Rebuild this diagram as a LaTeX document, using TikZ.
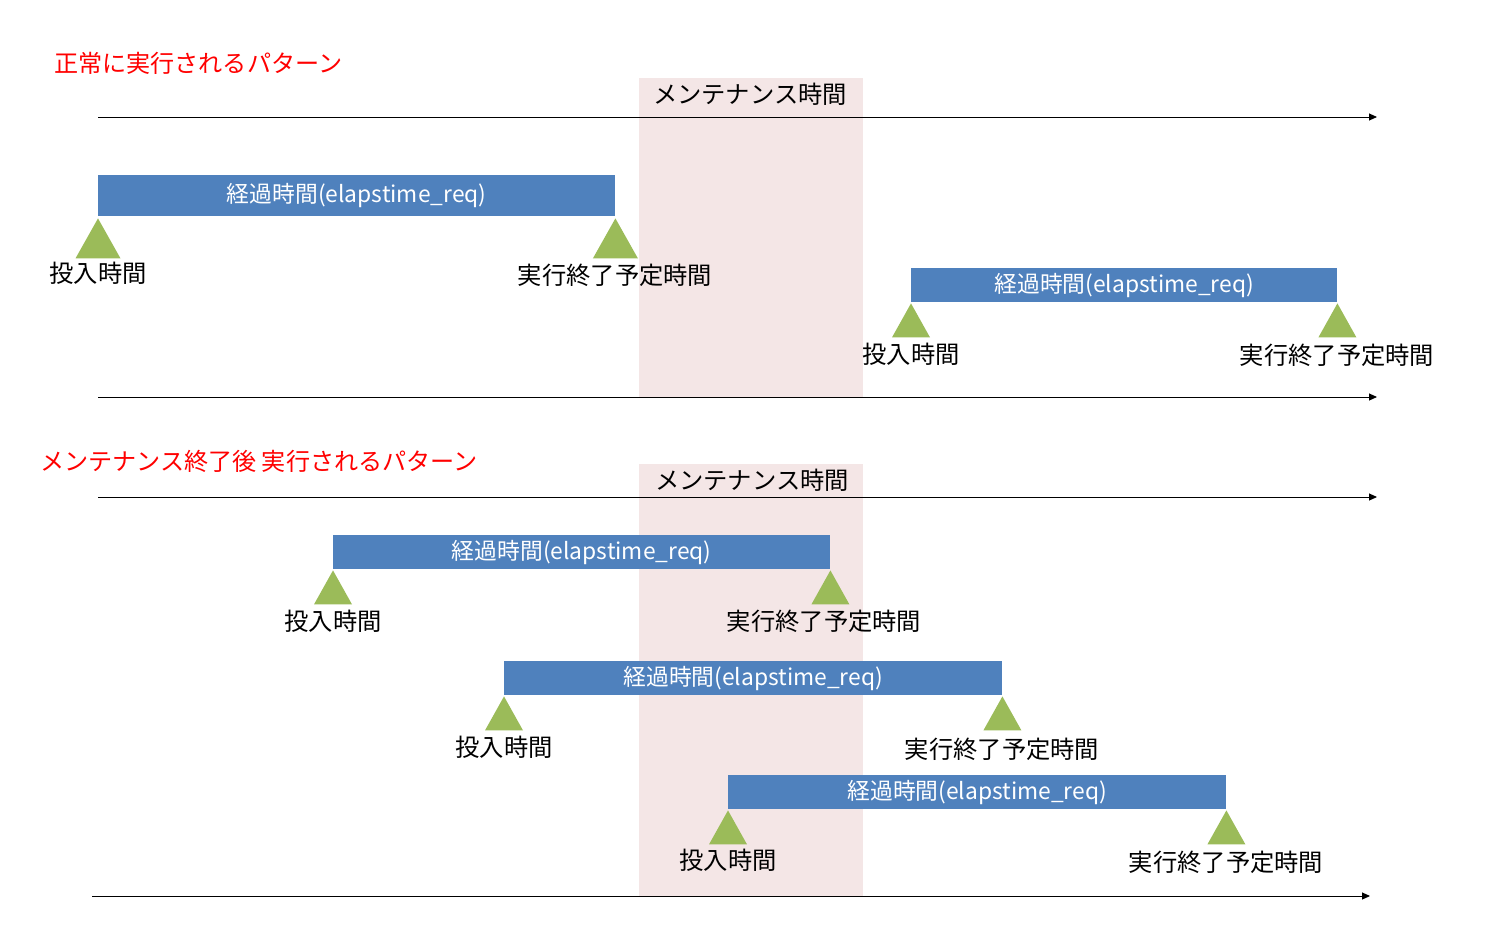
\documentclass[tikz,border=0pt]{standalone}
\usepackage{fontspec}
\setmainfont{Noto Sans CJK JP}
\usetikzlibrary{arrows.meta}
\definecolor{barblue}{RGB}{79,129,189}
\definecolor{trigreen}{RGB}{155,187,89}
\definecolor{mpink}{RGB}{244,230,230}
\definecolor{titlered}{RGB}{255,0,0}
\begin{document}
\begin{tikzpicture}[x=1pt,y=-1pt,
  lbl/.style={font=\fontsize{24.3}{28}\selectfont, inner sep=0pt, text=black},
  title/.style={font=\fontsize{24.1}{28}\selectfont, inner sep=0pt, text=titlered, anchor=west},
  bar/.style={fill=barblue, draw=none, inner sep=0pt, anchor=north west, text=white, font=\fontsize{22.8}{26}\selectfont},
  maint/.style={fill=mpink, draw=none, inner sep=0pt, anchor=north west, minimum width=224pt},
  axis/.style={draw=black, line width=0.9pt, -{Triangle[length=8pt,width=7pt]}},
  bigtri/.style={fill=trigreen, draw=none},
  smalltri/.style={fill=trigreen, draw=none}
]
\useasboundingbox (0,0) rectangle (1512,945);
\fill[white] (0,0) rectangle (1512,945);

% maintenance windows
\node[maint, minimum height=319pt] (m1) at (639,78) {};
\node[maint, minimum height=432pt] (m2) at (639,464) {};
\node[lbl] (m1l) at (750,94) {メンテナンス時間};
\node[lbl] (m2l) at (752,480) {メンテナンス時間};

% titles
\node[title] (t1) at (54,63) {正常に実行されるパターン};
\node[title] (t2) at (40,461) {メンテナンス終了後 実行されるパターン};

% axes
\coordinate (a1s) at (98,117);  \coordinate (a1e) at (1377,117);
\coordinate (a2s) at (98,397);  \coordinate (a2e) at (1377,397);
\coordinate (a3s) at (98,497);  \coordinate (a3e) at (1377,497);
\coordinate (a4s) at (92,896);  \coordinate (a4e) at (1370,896);
\draw[axis] (a1s) -- (a1e);
\draw[axis] (a2s) -- (a2e);
\draw[axis] (a3s) -- (a3e);
\draw[axis] (a4s) -- (a4e);

% bars
\node[bar, minimum width=517pt, minimum height=41pt] (b1) at (98,175) {経過時間(elapstime\_req)};
\node[bar, minimum width=426pt, minimum height=34pt] (b2) at (911,268) {経過時間(elapstime\_req)};
\node[bar, minimum width=497pt, minimum height=34pt] (b3) at (333,535) {経過時間(elapstime\_req)};
\node[bar, minimum width=498pt, minimum height=34pt] (b4) at (504,661) {経過時間(elapstime\_req)};
\node[bar, minimum width=498pt, minimum height=34pt] (b5) at (728,775) {経過時間(elapstime\_req)};

% triangles
\fill[bigtri] ([yshift=-2pt]b1.south west) -- ++(-22.5,40) -- ++(45,0) -- cycle;
\fill[bigtri] ([yshift=-2pt]b1.south east) -- ++(-22.5,40) -- ++(45,0) -- cycle;
\foreach \b in {b2,b3,b4,b5}{
  \fill[smalltri] ([yshift=-1pt]\b.south west) -- ++(-19,34) -- ++(38,0) -- cycle;
  \fill[smalltri] ([yshift=-1pt]\b.south east) -- ++(-19,34) -- ++(38,0) -- cycle;
}

% labels
\node[lbl] (s1) at (98,273) {投入時間};
\node[lbl] (e1) at (615,275) {実行終了予定時間};
\node[lbl] (s2) at (911,354) {投入時間};
\node[lbl] (e2) at (1337,355) {実行終了予定時間};
\node[lbl] (s3) at (333,621) {投入時間};
\node[lbl] (e3) at (824,621) {実行終了予定時間};
\node[lbl] (s4) at (504,747) {投入時間};
\node[lbl] (e4) at (1002,749) {実行終了予定時間};
\node[lbl] (s5) at (728,860) {投入時間};
\node[lbl] (e5) at (1226,862) {実行終了予定時間};
\end{tikzpicture}
\end{document}
